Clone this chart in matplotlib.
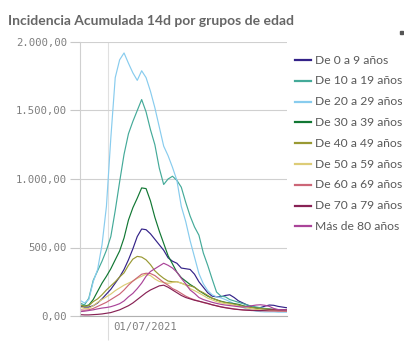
import matplotlib
matplotlib.use("Agg")
import matplotlib.pyplot as plt
import matplotlib.dates as mdates
import pandas as pd
from datetime import datetime
from matplotlib.lines import Line2D

# Datos (IA 14d por 100.000 hab., una muestra cada 3 días)
fechas = pd.date_range("2021-06-12", periods=48, freq="3D")

grupos = ["De 0 a 9 años", "De 10 a 19 años", "De 20 a 29 años", "De 30 a 39 años",
          "De 40 a 49 años", "De 50 a 59 años", "De 60 a 69 años", "De 70 a 79 años",
          "Más de 80 años"]

ia_0_9 = [70, 65, 65, 75, 95, 125, 160, 195, 240, 285, 340, 410, 490, 580, 635, 630,
          600, 560, 520, 480, 425, 400, 385, 350, 345, 340, 305, 250, 210, 170, 145, 140,
          140, 150, 155, 135, 110, 95, 80, 68, 60, 62, 72, 80, 78, 70, 65, 60]
ia_10_19 = [95, 80, 130, 260, 330, 400, 480, 580, 770, 980, 1180, 1330, 1420, 1500, 1580, 1490,
            1360, 1250, 1080, 960, 1000, 1020, 990, 940, 830, 730, 650, 590, 460, 370, 270, 175,
            145, 140, 120, 110, 100, 90, 80, 72, 66, 60, 55, 52, 48, 45, 44, 42]
ia_20_29 = [115, 95, 120, 250, 340, 520, 800, 1300, 1740, 1870, 1920, 1845, 1775, 1720, 1790, 1740,
            1640, 1520, 1380, 1240, 1170, 1085, 990, 800, 690, 550, 430, 310, 235, 185, 155, 140,
            132, 120, 105, 90, 75, 62, 50, 42, 35, 32, 30, 30, 30, 28, 28, 28]
ia_30_39 = [80, 72, 80, 120, 180, 240, 290, 345, 410, 475, 570, 700, 790, 860, 935, 930,
            840, 720, 620, 530, 440, 380, 320, 280, 255, 230, 210, 185, 165, 145, 130, 118,
            108, 100, 95, 90, 85, 75, 68, 62, 57, 53, 50, 48, 46, 45, 43, 42]
ia_40_49 = [80, 70, 75, 105, 125, 155, 190, 220, 250, 285, 315, 370, 415, 435, 430, 410,
            375, 330, 300, 275, 255, 250, 250, 240, 228, 220, 210, 185, 170, 150, 130, 118,
            105, 98, 92, 86, 80, 72, 67, 62, 58, 55, 52, 50, 48, 46, 44, 43]
ia_50_59 = [65, 55, 55, 75, 100, 120, 140, 160, 185, 205, 225, 240, 255, 275, 290, 305,
            295, 270, 252, 245, 238, 245, 250, 240, 225, 200, 185, 168, 150, 130, 118, 105,
            96, 90, 85, 78, 70, 64, 58, 53, 48, 45, 43, 41, 40, 38, 37, 36]
ia_60_69 = [45, 42, 45, 55, 70, 85, 100, 120, 140, 160, 190, 225, 255, 280, 305, 312,
            310, 295, 270, 245, 225, 200, 185, 165, 145, 130, 118, 108, 98, 90, 82, 75,
            68, 62, 57, 52, 48, 45, 43, 42, 40, 38, 37, 36, 36, 35, 35, 34]
ia_70_79 = [10, 8, 8, 10, 12, 15, 20, 25, 35, 45, 60, 75, 95, 120, 145, 170,
            190, 205, 220, 225, 210, 190, 170, 150, 135, 125, 115, 108, 100, 92, 82, 74,
            66, 60, 55, 50, 47, 44, 42, 40, 40, 40, 42, 45, 45, 44, 44, 45]
ia_80_mas = [32, 35, 40, 45, 52, 58, 62, 68, 78, 90, 110, 140, 165, 200, 240, 290,
             325, 345, 365, 385, 370, 350, 320, 275, 235, 190, 165, 135, 120, 110, 100, 92,
             85, 80, 76, 72, 68, 65, 68, 75, 80, 82, 78, 70, 55, 47, 45, 44]

series = [ia_0_9, ia_10_19, ia_20_29, ia_30_39, ia_40_49, ia_50_59, ia_60_69, ia_70_79, ia_80_mas]
colores = ["#332288", "#44aa99", "#88ccee", "#117733", "#999933", "#ddcc77",
           "#cc6677", "#882255", "#aa4499"]

yticks = [0, 500, 1000, 1500, 2000]
ytick_labels = ["0,00", "500,00", "1.000,00", "1.500,00", "2.000,00"]

W, H = 404, 345
fig = plt.figure(figsize=(W / 100, H / 100), dpi=100)
ax = fig.add_axes([80 / W, 1 - 316 / H, 207 / W, 274 / H])

for vals, col in zip(series, colores):
    ax.plot(fechas, vals, color=col, lw=0.85)

ax.set_ylim(0, 2000)
ax.set_xlim(datetime(2021, 6, 12), datetime(2021, 10, 31))

ax.set_yticks(yticks)
ax.set_yticklabels(ytick_labels, family="DejaVu Sans Mono", fontsize=7.7, color="#7f7f7f")
ax.tick_params(axis="y", length=7.5, width=0.8, color="#c8c8c8", pad=2)

ax.set_xticks([datetime(2021, 7, 1)])
ax.xaxis.set_major_formatter(mdates.DateFormatter("%d/%m/%Y"))
ax.tick_params(axis="x", length=17, width=0.8, color="#dcdcdc", pad=-13)
for lab in ax.get_xticklabels():
    lab.set_family("DejaVu Sans Mono")
    lab.set_fontsize(7.7)
    lab.set_color("#7f7f7f")
    lab.set_horizontalalignment("left")
lab0 = ax.xaxis.get_major_ticks()[0].label1
lab0.set_transform(lab0.get_transform()
                   + matplotlib.transforms.ScaledTranslation(5 / 100, 0, fig.dpi_scale_trans))

ax.grid(axis="y", color="#d0d0d0", lw=0.8)
ax.grid(axis="x", color="#e0e0e0", lw=0.8)
ax.set_axisbelow(True)
for s in ["top", "right"]:
    ax.spines[s].set_visible(False)
ax.spines["left"].set_color("#d0d0d0")
ax.spines["left"].set_linewidth(0.8)
ax.spines["bottom"].set_color("#b0b0b0")
ax.spines["bottom"].set_linewidth(0.8)

fig.text(8 / W, 1 - 25 / H, "Incidencia Acumulada 14d por grupos de edad",
         fontsize=10, fontweight="bold", color="#666666", family="Lato", va="baseline")

# leyenda (recortada por el borde derecho, como en el original)
for i, (g, col) in enumerate(zip(grupos, colores)):
    y = 1 - (60 + i * 20.8) / H
    fig.add_artist(Line2D([295 / W, 311 / W], [y, y], color=col, lw=1.6))
    fig.text(315 / W, y, g, fontsize=8.7, color="#595959", family="Lato", va="center")

fig.add_artist(matplotlib.patches.Rectangle((400 / W, 1 - 34 / H), 3 / W, 3 / H,
                                            color="#555555", transform=fig.transFigure))

fig.savefig("out.png", dpi=100)
